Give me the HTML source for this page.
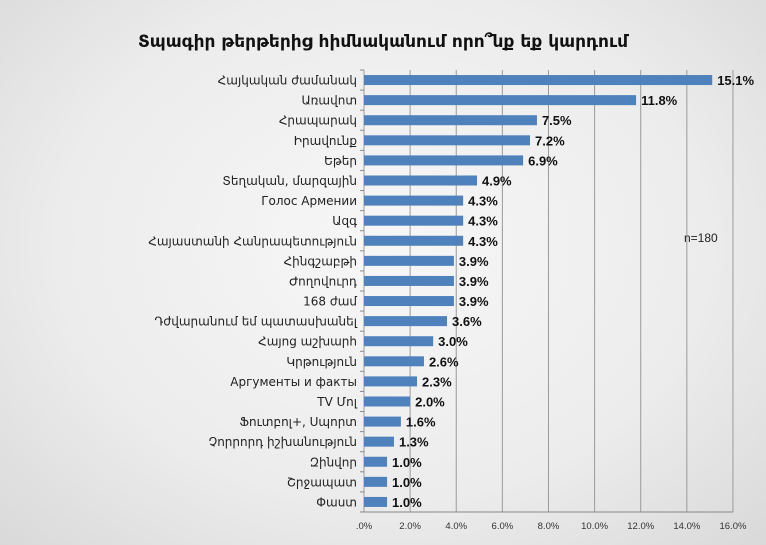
<!DOCTYPE html>
<html><head><meta charset="utf-8"><style>
body{margin:0;width:766px;height:545px;overflow:hidden;background:radial-gradient(ellipse at 50% 45%,#f7f7f7 0%,#ececec 60%,#d9d9d9 100%);font-family:"Liberation Sans","DejaVu Sans",sans-serif;}
</style></head><body>
<svg width="766" height="545" xmlns="http://www.w3.org/2000/svg" style="position:absolute;left:0;top:0">
<text x="383" y="47" text-anchor="middle" font-family="DejaVu Sans, sans-serif" font-weight="bold" font-size="17" fill="#111">Տպագիր թերթերից հիմնականում որո՞նք եք կարդում</text>
<g id="g"></g>
<text x="684" y="242" font-size="12" fill="#222">n=180</text>
</svg>
<script>
(function(){
var d=[["Հայկական ժամանակ",15.1],["Առավոտ",11.8],["Հրապարակ",7.5],["Իրավունք",7.2],["Եթեր",6.9],["Տեղական, մարզային",4.9],["Голос Армении",4.3],["Ազգ",4.3],["Հայաստանի Հանրապետություն",4.3],["Հինգշաբթի",3.9],["Ժողովուրդ",3.9],["168 ժամ",3.9],["Դժվարանում եմ պատասխանել",3.6],["Հայոց աշխարհ",3.0],["Կրթություն",2.6],["Аргументы и факты",2.3],["TV Մոլ",2.0],["Ֆուտբոլ+, Սպորտ",1.6],["Չորրորդ իշխանություն",1.3],["Զինվոր",1.0],["Շրջապատ",1.0],["Փաստ",1.0]];
var x0=364,s=23.06,t0=70,h=20.09,bot=512,o="";
for(var i=0;i<=8;i++){var x=x0+i*2*s;o+='<line x1="'+x+'" y1="'+t0+'" x2="'+x+'" y2="'+bot+'" stroke="#9a9a9a" stroke-width="1"/>';
o+='<text x="'+x+'" y="529" text-anchor="middle" font-size="9.5" fill="#333">'+(i==0?'.0%':(i*2)+'.0%')+'</text>';}
o+='<line x1="'+x0+'" y1="'+bot+'" x2="733" y2="'+bot+'" stroke="#888"/>';
for(var i=0;i<=22;i++){var y=t0+i*h;o+='<line x1="'+(x0-4)+'" y1="'+y+'" x2="'+x0+'" y2="'+y+'" stroke="#888"/>';}
d.forEach(function(r,i){var c=t0+(i+0.5)*h,w=r[1]*s;
o+='<rect x="'+x0+'" y="'+(c-5)+'" width="'+w+'" height="10" fill="#4f81bd"/>';
o+='<text x="357" y="'+(c+4.5)+'" text-anchor="end" font-family="DejaVu Sans, sans-serif" font-size="12" fill="#222">'+r[0]+'</text>';
o+='<text x="'+(x0+w+5)+'" y="'+(c+5)+'" font-weight="bold" font-size="13" fill="#111">'+r[1].toFixed(1)+'%</text>';});
document.getElementById('g').innerHTML=o;
})();
</script>
</body></html>
